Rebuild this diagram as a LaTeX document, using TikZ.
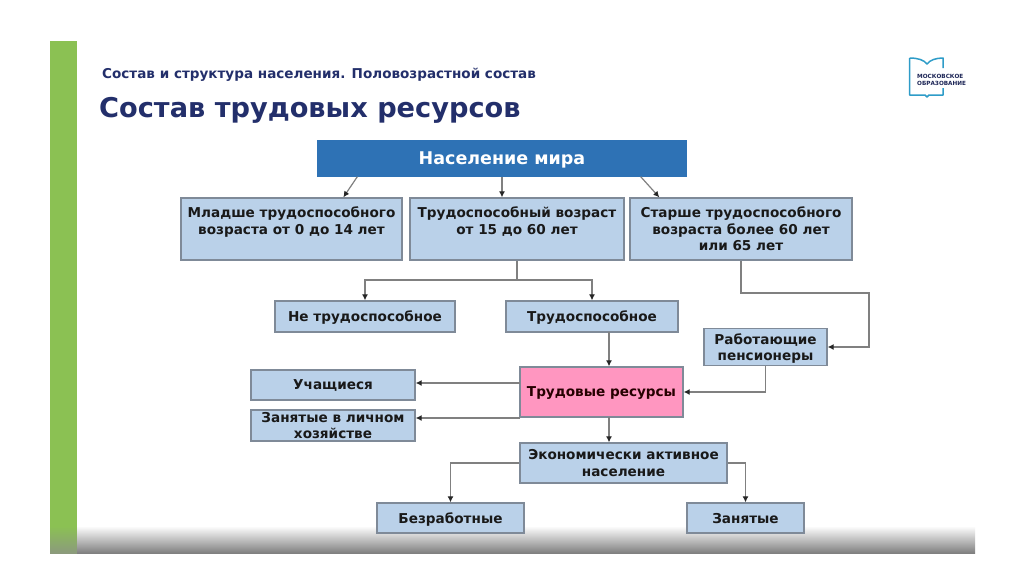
\documentclass[tikz,border=0pt]{standalone}
\usepackage{fontspec}
\setmainfont{DejaVu Sans}
\usetikzlibrary{arrows.meta}
\definecolor{grn}{HTML}{8BC153}
\definecolor{nav}{HTML}{232F6B}
\definecolor{boxf}{HTML}{BAD1E9}
\definecolor{boxd}{HTML}{7F8A98}
\definecolor{blu}{HTML}{2E72B5}
\definecolor{pnk}{HTML}{FF96C0}
\definecolor{teal}{HTML}{2E9CC8}
\definecolor{lin}{HTML}{808080}
\tikzset{
 x=1pt,y=-1pt,
 bx/.style={draw=boxd,line width=1.3pt,fill=boxf,inner sep=0pt,text depth=0pt,font=\bfseries\fontsize{13.6}{16.5}\selectfont,text=black!90,align=center},
 conn/.style={draw=lin,line width=1.2pt,-{Latex[length=6pt,width=6pt,color=black!85]}},
 plainl/.style={draw=lin,line width=1.2pt},
}
\begin{document}
\begin{tikzpicture}
\useasboundingbox (0,0) rectangle (1024,574);
\fill[white] (0,0) rectangle (1024,574);
\fill[grn] (50,41) rectangle (77,526);
\shade[top color=grn,bottom color=grn!45!black!60] (50,526) rectangle (77,553);
\shade[top color=white,bottom color=black!50] (77,526) rectangle (975,553);
\node[anchor=west,text=nav,font=\bfseries\fontsize{13.55}{15}\selectfont,inner sep=0pt] (sub) at (102,75) {Состав и структура населения. Половозрастной состав};
\node[anchor=west,text=nav,font=\bfseries\fontsize{27.2}{30}\selectfont,inner sep=0pt] (ttl) at (99,110) {Состав трудовых ресурсов};
% logo
\draw[teal,line width=1.5pt,line join=round] (909.5,58) -- (909.5,95) -- (925,95) -- (927,97) -- (929,95) -- (943,95) -- (943,88);
\draw[teal,line width=1.5pt,line join=round] (909.5,58) .. controls (918,58) and (924,60) .. (927,64) .. controls (930,60) and (936,58) .. (943,58) -- (943,68);
\node[anchor=west,inner sep=0pt,text=nav!80!black,font=\bfseries\fontsize{5.7}{7}\selectfont,align=left] (logo) at (917,79.5) {МОСКОВСКОЕ\\ОБРАЗОВАНИЕ};
% boxes
\node[bx,fill=blu,draw=blu,text=white,font=\bfseries\fontsize{17.5}{20}\selectfont,minimum width=368pt,minimum height=35pt] (pop) at (502,158.5) {Население мира};
\node[bx,minimum width=221pt,minimum height=62pt] (yng) at (291.5,229) {};
\node[inner sep=0pt,bx,draw=none,fill=none,anchor=north] (yngt) at (291.5,206.5) {Младше трудоспособного\\возраста от 0 до 14 лет};
\node[bx,minimum width=214pt,minimum height=62pt] (wrk) at (517,229) {};
\node[inner sep=0pt,bx,draw=none,fill=none,anchor=north] (wrkt) at (517,206.5) {Трудоспособный возраст\\от 15 до 60 лет};
\node[bx,minimum width=222pt,minimum height=62pt] (old) at (741,229) {};
\node[inner sep=0pt,bx,draw=none,fill=none,anchor=north] (oldt) at (741,206.5) {Старше трудоспособного\\возраста более 60 лет\\или 65 лет};
\node[bx,minimum width=180pt,minimum height=31pt] (nab) at (365,316.5) {Не трудоспособное};
\node[bx,minimum width=172pt,minimum height=31pt] (abl) at (592,316.5) {Трудоспособное};
\node[bx,minimum width=123pt,minimum height=37pt] (pens) at (765.5,347) {Работающие\\пенсионеры};
\node[bx,fill=pnk,minimum width=163pt,minimum height=50pt,text=black!85!red] (res) at (601.5,392) {Трудовые ресурсы};
\node[bx,minimum width=164pt,minimum height=30pt] (stu) at (333,385) {Учащиеся};
\node[bx,minimum width=164pt,minimum height=31pt] (hom) at (333,425.5) {Занятые в личном\\хозяйстве};
\node[bx,minimum width=207pt,minimum height=40pt] (eco) at (623.5,463) {Экономически активное\\население};
\node[bx,minimum width=147pt,minimum height=30pt] (une) at (450.5,518) {Безработные};
\node[bx,minimum width=117pt,minimum height=30pt] (emp) at (745.5,518) {Занятые};
% connectors
\draw[conn] ([xshift=40pt]pop.south west) -- ([xshift=163pt]yng.north west);
\draw[conn] (pop.south) -- (pop.south |- wrk.north);
\draw[conn] ([xshift=-46pt]pop.south east) -- ([xshift=30pt]old.north west);
\coordinate (split) at (517,280);
\draw[plainl] (wrk.south) -- (split);
\draw[conn] (split) -| (nab.north);
\draw[conn] (split) -| (abl.north);
\coordinate (oldk) at (741,293);
\coordinate (oldr) at (869,293);
\draw[conn] (oldk |- old.south) -- (oldk) -- (oldr) -- (oldr |- pens.east) -- (pens.east);
\coordinate (absx) at (609,332);
\draw[conn] (absx) -- (absx |- res.north);
\draw[conn] (pens.south) |- (res.east);
\coordinate (st) at (520,383);
\coordinate (ho) at (520,418);
\draw[conn] (st) -- (st -| stu.east);
\draw[conn] (ho) -- (ho -| hom.east);
\coordinate (ecx) at (609,417);
\draw[conn] (ecx) -- (ecx |- eco.north);
\draw[conn] (eco.west) -| (une.north);
\draw[conn] (eco.east) -| (emp.north);
\end{tikzpicture}
\end{document}
